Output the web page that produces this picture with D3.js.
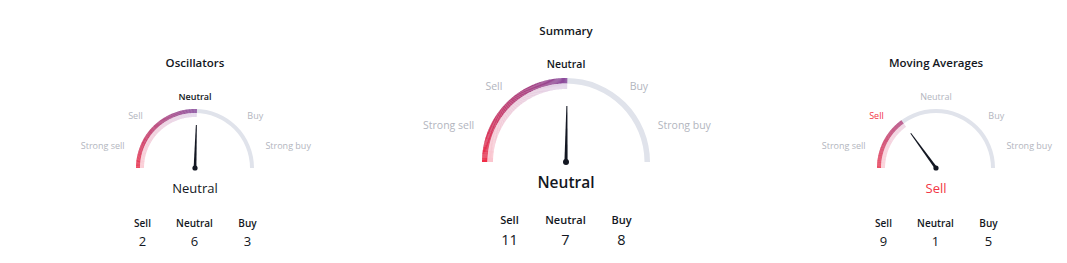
<!DOCTYPE html>
<html><head><meta charset="utf-8">
<script src="https://cdn.jsdelivr.net/npm/d3@7/dist/d3.min.js"></script>
<style>
html,body{margin:0;padding:0;background:#fff;}
svg{display:block;font-family:"Open Sans",sans-serif;}
</style></head>
<body><svg id="c" width="1067" height="263"></svg>
<script>
// ---- data ----
const titles = ["Oscillators", "Summary", "Moving Averages"];
const ratings = ["Neutral", "Neutral", "Sell"];
const needleValues = [0.02, 0.01, -0.4];   // -1 strong sell .. 1 strong buy
const sellCounts = [2, 11, 9];
const neutralCounts = [6, 7, 1];
const buyCounts = [3, 8, 5];
const scaleLabels = ["Strong sell", "Sell", "Neutral", "Buy", "Strong buy"];
const countLabels = ["Sell", "Neutral", "Buy"];

// ---- layout ----
const layout = [
  {cx:195, cy:168, R:59, band:4, big:false},
  {cx:566, cy:162, R:84, band:5.5, big:true},
  {cx:936, cy:168, R:59, band:4, big:false}
];
const C = {dark:"#131722", grey:"#b2b5be", red:"#f23645", track:"#e0e3eb"};

const svg = d3.select("#c");
const ang = d3.scaleLinear().domain([-1,1]).range([-Math.PI/2, Math.PI/2]);
const strongCol = d3.scaleLinear().domain([-1,0]).range(["#f02d46","#8a4a9c"]).interpolate(d3.interpolateRgb).clamp(true);
const lightCol = d3.scaleLinear().domain([-1,0]).range(["#fbc5ce","#e0d2e8"]).interpolate(d3.interpolateRgb).clamp(true);

titles.forEach((t,i)=>{
  const L = layout[i];
  const g = svg.append("g").attr("transform",`translate(${L.cx},${L.cy})`);
  const R = L.R, b = L.band;
  const v = needleValues[i];
  // grey track
  g.append("path").attr("d", d3.arc()({innerRadius:R-b, outerRadius:R, startAngle:ang(-1), endAngle:ang(1)})).attr("fill",C.track);
  // colored arc (segmented gradient)
  const n = 120;
  const steps = d3.range(n).map(k=>-1 + (v+1)*k/n);
  const dv = (v+1)/n;
  steps.forEach(s=>{
    g.append("path").attr("d", d3.arc()({innerRadius:R-b, outerRadius:R, startAngle:ang(s), endAngle:ang(Math.min(v,s+dv*1.05))})).attr("fill",strongCol(s+dv/2));
    g.append("path").attr("d", d3.arc()({innerRadius:R-2*b, outerRadius:R-b, startAngle:ang(s), endAngle:ang(Math.min(v,s+dv*1.05))})).attr("fill",lightCol(s+dv/2));
  });
  // scale labels
  const fs = L.big ? 10.5 : 9;
  const labR = R + 15;
  const labAngDeg = L.big ? [-68,-40,0,40,68] : [-72,-45,0,45,72];
  const activeIdx = scaleLabels.indexOf(ratings[i]);
  scaleLabels.forEach((lab,k)=>{
    const a = labAngDeg[k]*Math.PI/180;
    let x = labR*Math.sin(a), y = -labR*Math.cos(a);
    if(k===2) y = -(R + (L.big?14:13));
    const active = k===activeIdx;
    g.append("text").attr("x",x).attr("y",y)
      .attr("text-anchor", k<2?"end":(k>2?"start":"middle"))
      .attr("dominant-baseline","central")
      .attr("font-size",fs).attr("font-weight", active && k===2 ? 600 : 400)
      .attr("fill", active ? (k<2?C.red:(k>2?"#089981":C.dark)) : C.grey)
      .text(lab);
  });
  // needle
  const a = ang(v);
  const len = L.big ? 56 : 43;
  const w0 = L.big ? 1.6 : 1.4, w1 = 0.5;
  const tip = [len*Math.sin(a), -len*Math.cos(a)];
  const px = Math.cos(a), py = Math.sin(a);
  g.append("path").attr("d", `M${w0*px},${w0*py} L${tip[0]+w1*px},${tip[1]+w1*py} L${tip[0]-w1*px},${tip[1]-w1*py} L${-w0*px},${-w0*py}Z`).attr("fill",C.dark);
  g.append("circle").attr("r", L.big?3:2.6).attr("fill",C.dark);
  // rating text
  const rc = ratings[i]==="Sell"||ratings[i]==="Strong sell" ? C.red : (ratings[i]==="Neutral"?C.dark:"#089981");
  g.append("text").attr("x",0).attr("y", 19.5).attr("text-anchor","middle").attr("dominant-baseline","central")
    .attr("font-size", L.big?15.5:13).attr("font-weight", L.big?600:400).attr("fill",rc).text(ratings[i]);
  // title
  g.append("text").attr("x",0).attr("y", L.big? -132 : -105.5).attr("text-anchor","middle").attr("dominant-baseline","central")
    .attr("font-size", 11.5).attr("font-weight",600).attr("fill",C.dark).text(t);
  // counts
  const vals = [sellCounts[i], neutralCounts[i], buyCounts[i]];
  const dx = L.big ? [-56.5,-0.5,55.5] : [-52.5,-0.5,52.5];
  countLabels.forEach((cl,k)=>{
    g.append("text").attr("x",dx[k]).attr("y", L.big?57:54.7).attr("text-anchor","middle").attr("dominant-baseline","central")
      .attr("font-size", L.big?11:10).attr("font-weight",600).attr("fill",C.dark).text(cl);
    g.append("text").attr("x",dx[k]).attr("y", L.big?77:72.7).attr("text-anchor","middle").attr("dominant-baseline","central")
      .attr("font-size", L.big?14.5:13).attr("font-weight",400).attr("fill",C.dark).text(vals[k]);
  });
});
</script></body></html>
